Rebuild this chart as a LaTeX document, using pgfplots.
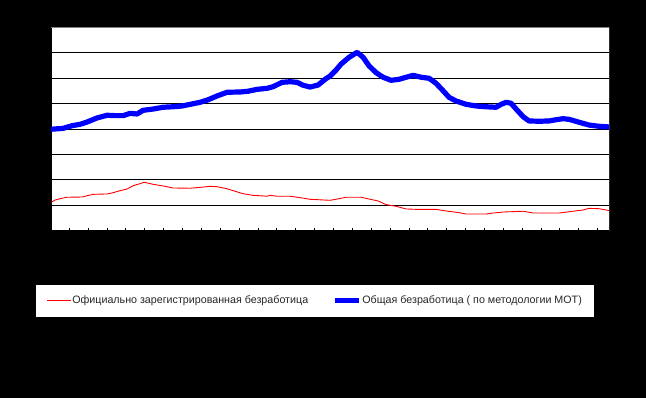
\documentclass[border=0pt]{standalone}
\usepackage{fontspec}
\setmainfont{Liberation Sans}
\usepackage{pgfplots}
\pgfplotsset{compat=1.18}
\begin{document}
\begin{tikzpicture}
\fill[black] (0,0) rectangle (646bp,398bp);
\useasboundingbox (0,0) rectangle (646bp,398bp);
\begin{axis}[
  at={(51.1bp,167.3bp)}, anchor=south west,
  scale only axis, width=558.3bp, height=203.4bp,
  xmin=0, xmax=558.3, ymin=0, ymax=16,
  axis background/.style={fill=white},
  axis line style={black, line width=0.8bp},
  xtick={18.1,36.97,...,550}, xticklabels={},
  ytick={2,4,...,14}, yticklabels={},
  ymajorgrids, grid style={black, line width=0.9bp},
  tick align=inside, xtick pos=lower,
  major tick length=3bp, xtick style={black, line width=0.7bp},
  ytick style={draw=none},
  legend columns=2,
  legend style={at={(axis description cs:-0.0285,-0.2616)}, anchor=north west,
    draw=black, fill=white, inner xsep=11bp, inner ysep=11bp,
    font=\fontsize{10.7bp}{12bp}\selectfont, text=black!85,
    nodes={inner sep=1bp},
    /tikz/every even column/.append style={column sep=23bp}},
  legend image code/.code={\draw[#1] (0bp,0bp) -- (24bp,0bp);},
  legend cell align=left,
]
\addplot[red, line width=0.9bp] coordinates {
(0,2.23) (4,2.41) (9,2.52) (16,2.63) (31,2.65) (36,2.75) (42,2.86) (56,2.89)
(62,2.99) (69,3.15) (76,3.28) (82,3.54) (89,3.70) (93,3.81) (102,3.65)
(112,3.52) (122,3.36) (139,3.34) (149,3.41) (159,3.49) (166,3.46) (176,3.30)
(182,3.15) (192,2.91) (202,2.78) (209,2.75) (216,2.71) (219,2.78) (226,2.71)
(239,2.71) (249,2.60) (259,2.47) (279,2.39) (288,2.52) (295,2.63) (310,2.63)
(318,2.49) (327,2.34) (335,2.05) (345,1.92) (355,1.71) (365,1.68) (385,1.68)
(395,1.55) (408,1.42) (415,1.31) (435,1.31) (442,1.39) (452,1.47) (472,1.53)
(482,1.39) (508,1.39) (522,1.53) (532,1.63) (538,1.76) (548,1.73) (555,1.63)
(558.3,1.57)
};
\addlegendentry{Официально зарегистрированная безработица}
\addplot[blue, line width=5.2bp, line join=round] coordinates {
(0,7.98) (12,8.05) (21,8.26) (29,8.37) (36,8.55) (46,8.87) (56,9.08) (64,9.05)
(72,9.05) (79,9.23) (86,9.18) (92,9.47) (102,9.57) (112,9.71) (122,9.75)
(131,9.81) (139,9.94) (149,10.10) (157,10.30) (166,10.60) (176,10.89)
(189,10.91) (197,10.97) (206,11.12) (216,11.20) (222,11.33) (231,11.67)
(239,11.72) (246,11.67) (252,11.44) (259,11.30) (267,11.46) (274,11.91)
(279,12.17) (285,12.64) (290,13.11) (298,13.64) (306,14.03) (312,13.64)
(318,12.96) (325,12.43) (332,12.07) (340,11.83) (348,11.91) (355,12.07)
(362,12.22) (370,12.07) (378,11.99) (385,11.59) (392,11.01) (398,10.49)
(405,10.20) (415,9.94) (425,9.81) (435,9.75) (445,9.71) (450,9.94) (455,10.10)
(460,10.02) (465,9.57) (472,8.97) (478,8.63) (488,8.61) (498,8.63) (505,8.73)
(512,8.81) (518,8.76) (528,8.53) (538,8.31) (548,8.21) (558.3,8.16)
};
\addlegendentry{Общая безработица ( по методологии МОТ)}
\draw[gray, line width=1bp] (rel axis cs:0,1) -- (rel axis cs:1,1) -- (rel axis cs:1,0);
\end{axis}
\end{tikzpicture}
\end{document}
